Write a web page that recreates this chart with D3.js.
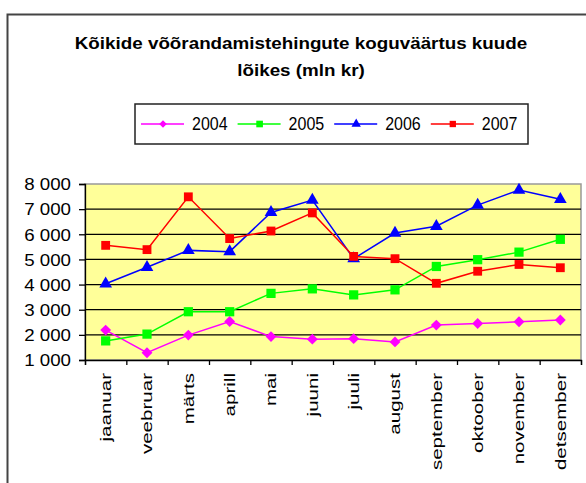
<!DOCTYPE html>
<html>
<head>
<meta charset="utf-8">
<script src="https://cdn.jsdelivr.net/npm/d3@7"></script>
<style>
  body { margin: 0; background: #fff; }
  text { font-family: "Liberation Sans", Arial, sans-serif; fill: #000; }
</style>
</head>
<body>
<div id="chart"></div>
<script>
(function(){
  var width = 586,
    height = 483;

  // kuud
  var months = ["jaanuar", "veebruar", "märts", "aprill", "mai", "juuni",
    "juuli", "august", "september", "oktoober", "november", "detsember"];

  // mln kr, loetud pildilt
  var v2004 = [2190, 1290, 1990, 2530, 1930, 1830, 1850, 1720, 2390, 2450, 2520, 2590];
  var v2005 = [1760, 2030, 2920, 2920, 3650, 3830, 3590, 3790, 4720, 4990, 5290, 5800];
  var v2006 = [4030, 4690, 5360, 5310, 6870, 7360, 5030, 6050, 6320, 7160, 7760, 7390];
  var v2007 = [5560, 5390, 7490, 5830, 6130, 6850, 5120, 5030, 4050, 4530, 4800, 4670];

  var years = ["2004", "2005", "2006", "2007"];
  var yTicks = [1000, 2000, 3000, 4000, 5000, 6000, 7000, 8000];
  var titleLines = ["Kõikide võõrandamistehingute koguväärtus kuude", "lõikes (mln kr)"];

  var series = [
    {name: years[0], values: v2004, color: "#ff00ff", symbol: d3.symbolDiamond2, size: 75, legSize: 36},
    {name: years[1], values: v2005, color: "#00ff00", symbol: d3.symbolSquare, size: 85, legSize: 44},
    {name: years[2], values: v2006, color: "#0000ff", symbol: d3.symbolTriangle, size: 70, legSize: 38},
    {name: years[3], values: v2007, color: "#ff0000", symbol: d3.symbolSquare, size: 78, legSize: 40}
  ];

  var svg = d3.select("#chart")
    .append("svg")
    .attr("width", width)
    .attr("height", height);

  // outer frame (right and bottom are cut off in the picture)
  svg.append("path")
    .attr("d", "M7.5," + height + "V14.5H" + width)
    .attr("fill", "none")
    .attr("stroke", "#444")
    .attr("stroke-width", 2);

  // title
  svg.selectAll(".title")
    .data(titleLines)
    .enter().append("text")
    .attr("class", "title")
    .attr("text-anchor", "middle")
    .attr("font-weight", "bold")
    .attr("font-size", 16.5)
    .attr("transform", function(d, i) {
      return "translate(301," + (49 + i * 27) + ") scale(1.14,1)";
    })
    .text(function(d){ return d; });

  var left = 85, right = 581, top = 184, bottom = 360;

  var x = d3.scaleBand().domain(months).range([left, right]);
  var xEdge = d3.scaleLinear().domain([0, months.length]).range([left, right]);
  var y = d3.scaleLinear().domain([1000, 8000]).range([bottom, top]);

  // plot area
  svg.append("rect")
    .attr("x", left).attr("y", top)
    .attr("width", right - left).attr("height", bottom - top)
    .attr("fill", "#ffff99")
    .attr("stroke", "#999")
    .attr("stroke-width", 1.5);

  svg.selectAll(".grid")
    .data(yTicks.slice(1, -1))
    .enter().append("line")
    .attr("class", "grid")
    .attr("x1", left).attr("x2", right)
    .attr("y1", function(d){ return y(d); })
    .attr("y2", function(d){ return y(d); })
    .attr("stroke", "#000")
    .attr("stroke-width", 1.3);

  var fmt = d3.formatLocale({decimal: ",", thousands: " ", grouping: [3], currency: ["", ""]}).format(",d");

  // y axis
  var yAxis = svg.append("g")
    .attr("transform", "translate(" + left + ",0)")
    .call(d3.axisLeft(y).tickValues(yTicks).tickSize(6).tickFormat(fmt));
  yAxis.select(".domain").attr("stroke", "#000").attr("stroke-width", 1.3);
  yAxis.selectAll("line").attr("stroke-width", 1.3);
  yAxis.selectAll("text")
    .attr("x", null)
    .attr("dy", "0.36em")
    .attr("font-size", 16)
    .attr("font-family", "Liberation Sans, Arial, sans-serif")
    .attr("transform", "translate(-14,0) scale(1.17,1)");

  // x axis, ticks between the months
  var xAxis = svg.append("g")
    .attr("transform", "translate(0," + bottom + ")")
    .call(d3.axisBottom(xEdge).tickValues(d3.range(months.length + 1)).tickSize(5).tickFormat(""));
  xAxis.select(".domain").attr("stroke", "#000").attr("stroke-width", 1.3);
  xAxis.selectAll("line").attr("stroke-width", 1.3);

  svg.selectAll(".month")
    .data(months)
    .enter().append("text")
    .attr("class", "month")
    .attr("text-anchor", "end")
    .attr("font-size", 15)
    .attr("dy", "0.35em")
    .attr("transform", function(d) {
      return "translate(" + (x(d) + x.bandwidth() / 2) + ",373) rotate(-90) scale(1.37,1)";
    })
    .text(function(d){ return d; });

  // lines and markers
  var line = d3.line()
    .x(function(d, i){ return x(months[i]) + x.bandwidth() / 2; })
    .y(function(d){ return y(d); });

  var groups = svg.selectAll(".series")
    .data(series)
    .enter().append("g")
    .attr("class", "series");

  groups.append("path")
    .attr("d", function(d){ return line(d.values); })
    .attr("fill", "none")
    .attr("stroke", function(d){ return d.color; })
    .attr("stroke-width", 1.5);

  groups.each(function(s) {
    d3.select(this).selectAll(".pt")
      .data(s.values)
      .enter().append("path")
      .attr("class", "pt")
      .attr("d", d3.symbol().type(s.symbol).size(s.size))
      .attr("fill", s.color)
      .attr("transform", function(d, i) {
        return "translate(" + (x(months[i]) + x.bandwidth() / 2) + "," + y(d) + ")";
      });
  });

  // legend
  var legend = svg.append("g").attr("transform", "translate(135,104)");
  legend.append("rect")
    .attr("width", 393).attr("height", 40)
    .attr("fill", "#fff")
    .attr("stroke", "#222")
    .attr("stroke-width", 1.5);

  var item = legend.selectAll(".item")
    .data(series)
    .enter().append("g")
    .attr("class", "item")
    .attr("transform", function(d, i){ return "translate(" + (6 + i * 96.6) + ",20)"; });

  item.append("line")
    .attr("x1", 0).attr("x2", 43)
    .attr("stroke", function(d){ return d.color; })
    .attr("stroke-width", 1.5);
  item.append("path")
    .attr("d", function(d){ return d3.symbol().type(d.symbol).size(d.legSize)(); })
    .attr("fill", function(d){ return d.color; })
    .attr("transform", "translate(22,0)");
  item.append("text")
    .attr("font-size", 16)
    .attr("transform", "translate(51,6) scale(1,1.2)")
    .text(function(d){ return d.name; });
})();
</script>
</body>
</html>
